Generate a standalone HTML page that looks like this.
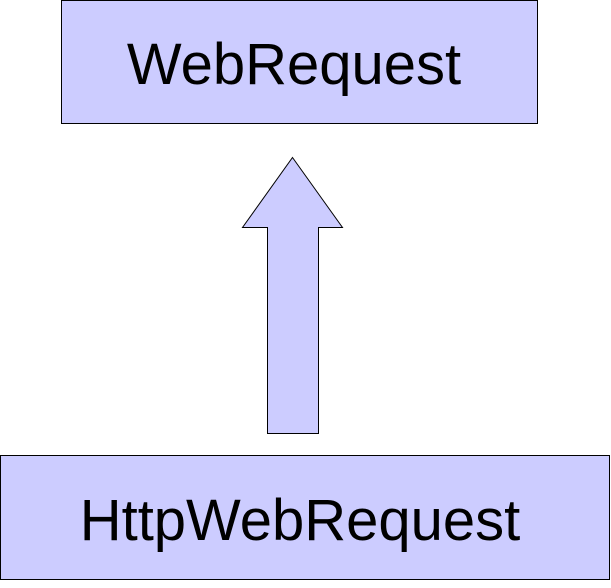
<!DOCTYPE html>
<html><head><meta charset="utf-8"><style>
html,body{margin:0;padding:0;background:#fff;}
</style></head><body>
<svg width="611" height="588" xmlns="http://www.w3.org/2000/svg" style="display:block">
<rect x="61.5" y="0.5" width="476" height="123" fill="#ccccff" stroke="#000" stroke-width="1"/>
<text x="294" y="84" font-family="Liberation Sans, Arial, sans-serif" font-size="58" text-anchor="middle" fill="#000">WebRequest</text>
<polygon points="292.5,157.5 342.5,227.5 318.5,227.5 318.5,433.5 267.5,433.5 267.5,227.5 242.5,227.5" fill="#ccccff" stroke="#000" stroke-width="1"/>
<rect x="0.5" y="455.5" width="609" height="124" fill="#ccccff" stroke="#000" stroke-width="1"/>
<text x="300" y="540" font-family="Liberation Sans, Arial, sans-serif" font-size="58" text-anchor="middle" fill="#000">HttpWebRequest</text>
</svg>
</body></html>
